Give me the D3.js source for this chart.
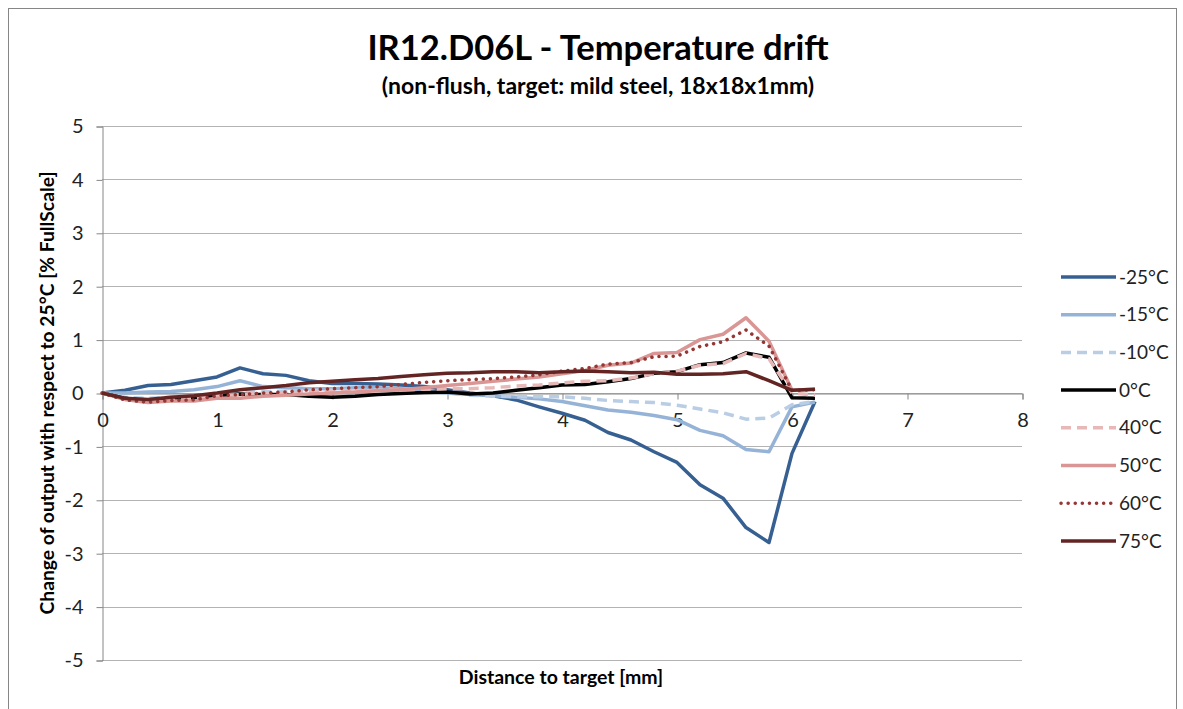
<!DOCTYPE html>
<html>
<head>
<meta charset="utf-8">
<script src="https://cdn.jsdelivr.net/npm/d3@7"></script>
<style>
  body { margin: 0; background: #fff; }
  svg { font-family: Lato, "Liberation Sans", sans-serif; }
</style>
</head>
<body>
<svg id="chart" width="1183" height="709"></svg>
<script>
// chart data
const distances = [0, 0.2, 0.4, 0.6, 0.8, 1.0, 1.2, 1.4, 1.6, 1.8, 2.0, 2.2, 2.4, 2.6, 2.8, 3.0,
  3.2, 3.4, 3.6, 3.8, 4.0, 4.2, 4.4, 4.6, 4.8, 5.0, 5.2, 5.4, 5.6, 5.8, 6.0, 6.2];

const seriesNames = ["-25°C", "-15°C", "-10°C", "0°C", "40°C", "50°C", "60°C", "75°C"];

const tempM25 = [0, 0.05, 0.14, 0.16, 0.23, 0.30, 0.47, 0.36, 0.33, 0.23, 0.18, 0.18, 0.17, 0.15, 0.12, 0.06,
  0.0, -0.05, -0.13, -0.26, -0.38, -0.51, -0.74, -0.88, -1.1, -1.3, -1.72, -1.97, -2.52, -2.8, -1.13, -0.16];
const tempM15 = [0, 0.0, 0.02, 0.03, 0.06, 0.12, 0.23, 0.12, 0.1, 0.08, 0.08, 0.1, 0.1, 0.08, 0.05, 0.0,
  -0.03, -0.05, -0.08, -0.11, -0.16, -0.24, -0.32, -0.36, -0.42, -0.5, -0.7, -0.8, -1.06, -1.1, -0.26, -0.17];
const tempM10 = [0, -0.08, -0.1, -0.08, -0.06, -0.02, 0.02, 0.03, 0.03, 0.04, 0.05, 0.05, 0.05, 0.04, 0.02, 0.0,
  -0.04, -0.06, -0.07, -0.07, -0.07, -0.1, -0.14, -0.16, -0.18, -0.23, -0.3, -0.37, -0.49, -0.47, -0.22, -0.16];
const temp0 = [0, -0.1, -0.15, -0.12, -0.1, -0.05, -0.02, -0.03, -0.03, -0.06, -0.08, -0.06, -0.03, -0.01, 0.01, 0.02,
  -0.02, 0.0, 0.05, 0.1, 0.15, 0.16, 0.21, 0.27, 0.37, 0.4, 0.53, 0.57, 0.75, 0.67, -0.09, -0.1];
const temp40 = [0, -0.12, -0.15, -0.12, -0.1, -0.05, -0.03, 0.0, 0.0, 0.02, 0.03, 0.03, 0.05, 0.06, 0.07, 0.08,
  0.08, 0.1, 0.13, 0.15, 0.19, 0.22, 0.23, 0.28, 0.36, 0.41, 0.52, 0.55, 0.74, 0.64, 0.0, -0.04];
const temp50 = [0, -0.12, -0.18, -0.15, -0.15, -0.1, -0.1, -0.06, -0.04, -0.02, 0.0, 0.02, 0.04, 0.06, 0.1, 0.14,
  0.18, 0.22, 0.26, 0.3, 0.36, 0.42, 0.52, 0.56, 0.74, 0.76, 1.0, 1.1, 1.41, 0.97, 0.05, 0.07];
const temp60 = [0, -0.13, -0.17, -0.14, -0.13, -0.05, -0.03, 0.0, 0.02, 0.06, 0.08, 0.1, 0.12, 0.16, 0.2, 0.23,
  0.25, 0.27, 0.3, 0.34, 0.41, 0.46, 0.54, 0.57, 0.68, 0.69, 0.87, 0.96, 1.18, 0.88, 0.05, 0.06];
const temp75 = [0, -0.1, -0.12, -0.08, -0.05, 0.0, 0.06, 0.1, 0.14, 0.19, 0.22, 0.25, 0.27, 0.31, 0.34, 0.37,
  0.38, 0.4, 0.4, 0.38, 0.4, 0.41, 0.4, 0.38, 0.39, 0.35, 0.35, 0.36, 0.4, 0.23, 0.05, 0.07];

const seriesValues = [tempM25, tempM15, tempM10, temp0, temp40, temp50, temp60, temp75];
const xTicks = [0, 1, 2, 3, 4, 5, 6, 7, 8];
const yTicks = [-5, -4, -3, -2, -1, 0, 1, 2, 3, 4, 5];

// line styles per series
const colors = ["#376092", "#95B3D7", "#B9CDE5", "#000000", "#E6B9B8", "#D99694", "#953735", "#632523"];
const dashes = [null, null, "10,6", null, "10,6", null, "0.1,7", null];

const svg = d3.select("#chart");

// outer border
svg.append("rect")
  .attr("x", 8.5).attr("y", 8.5)
  .attr("width", 1168).attr("height", 720)
  .attr("fill", "none")
  .attr("stroke", "#868686")
  .attr("stroke-width", 1);

const plot = { left: 102, right: 1022, top: 126, bottom: 660 };

const x = d3.scaleLinear().domain([0, 8]).range([plot.left, plot.right]);
const y = d3.scaleLinear().domain([-5, 5]).range([plot.bottom, plot.top]);

// gridlines
svg.append("g")
  .selectAll("line")
  .data(yTicks)
  .enter()
  .append("line")
  .attr("x1", plot.left)
  .attr("x2", plot.right)
  .attr("y1", d => Math.round(y(d)) + 0.5)
  .attr("y2", d => Math.round(y(d)) + 0.5)
  .attr("stroke", "#B3B3B3")
  .attr("stroke-width", 1);

// y axis
const yAxis = svg.append("g")
  .attr("transform", `translate(${plot.left + 0.5},0.5)`)
  .call(d3.axisLeft(y).tickValues(yTicks).tickSize(6).tickPadding(13).tickFormat(d3.format("d")));
yAxis.select(".domain").attr("stroke", "#868686");
yAxis.selectAll(".tick line").attr("stroke", "#868686");
yAxis.selectAll(".tick text")
  .attr("font-size", 20)
  .attr("fill", "#222")
  .attr("font-family", "Lato, 'Liberation Sans', sans-serif")
  .text(d => d < 0 ? "-" + Math.abs(d) : d);

// x axis across zero
const xAxis = svg.append("g")
  .attr("transform", `translate(0.5,${Math.round(y(0)) + 0.5})`)
  .call(d3.axisBottom(x).tickValues(xTicks).tickSize(6).tickPadding(13).tickFormat(d3.format("d")));
xAxis.select(".domain").attr("stroke", "#868686");
xAxis.selectAll(".tick line").attr("stroke", "#868686");
xAxis.selectAll(".tick text")
  .attr("font-size", 20)
  .attr("fill", "#222")
  .attr("font-family", "Lato, 'Liberation Sans', sans-serif");

// series lines
const line = d3.line()
  .x((d, i) => x(distances[i]))
  .y(d => y(d));

svg.append("g")
  .selectAll("path")
  .data(seriesValues)
  .enter()
  .append("path")
  .attr("d", d => line(d))
  .attr("fill", "none")
  .attr("stroke", (d, i) => colors[i])
  .attr("stroke-width", 3.5)
  .attr("stroke-linejoin", "round")
  .attr("stroke-linecap", (d, i) => dashes[i] === "0.1,7" ? "round" : "butt")
  .attr("stroke-dasharray", (d, i) => dashes[i]);

// title
svg.append("text")
  .attr("x", 598).attr("y", 60)
  .attr("text-anchor", "middle")
  .attr("font-size", 34.5)
  .attr("font-weight", "bold")
  .attr("fill", "#000")
  .text("IR12.D06L - Temperature drift");

svg.append("text")
  .attr("x", 598).attr("y", 94)
  .attr("text-anchor", "middle")
  .attr("font-size", 23)
  .attr("font-weight", "bold")
  .attr("fill", "#000")
  .text("(non-flush,  target: mild steel, 18x18x1mm)");

// axis titles
svg.append("text")
  .attr("x", 561).attr("y", 684)
  .attr("text-anchor", "middle")
  .attr("font-size", 19.5)
  .attr("font-weight", "bold")
  .text("Distance to target [mm]");

svg.append("text")
  .attr("transform", "translate(54,393) rotate(-90)")
  .attr("text-anchor", "middle")
  .attr("font-size", 19.3)
  .attr("font-weight", "bold")
  .text("Change of output with respect to 25°C [% FullScale]");

// legend
const legend = svg.append("g")
  .selectAll("g")
  .data(seriesNames)
  .enter()
  .append("g")
  .attr("transform", (d, i) => `translate(1061,${277 + i * 37.7})`);

legend.append("line")
  .attr("x1", 0).attr("x2", 55)
  .attr("stroke", (d, i) => colors[i])
  .attr("stroke-width", 3.5)
  .attr("stroke-linecap", (d, i) => dashes[i] === "0.1,7" ? "round" : "butt")
  .attr("stroke-dasharray", (d, i) => dashes[i]);

legend.append("text")
  .attr("x", 58).attr("dy", "0.35em")
  .attr("font-size", 19)
  .attr("fill", "#222")
  .text(d => d);
</script>
</body>
</html>
